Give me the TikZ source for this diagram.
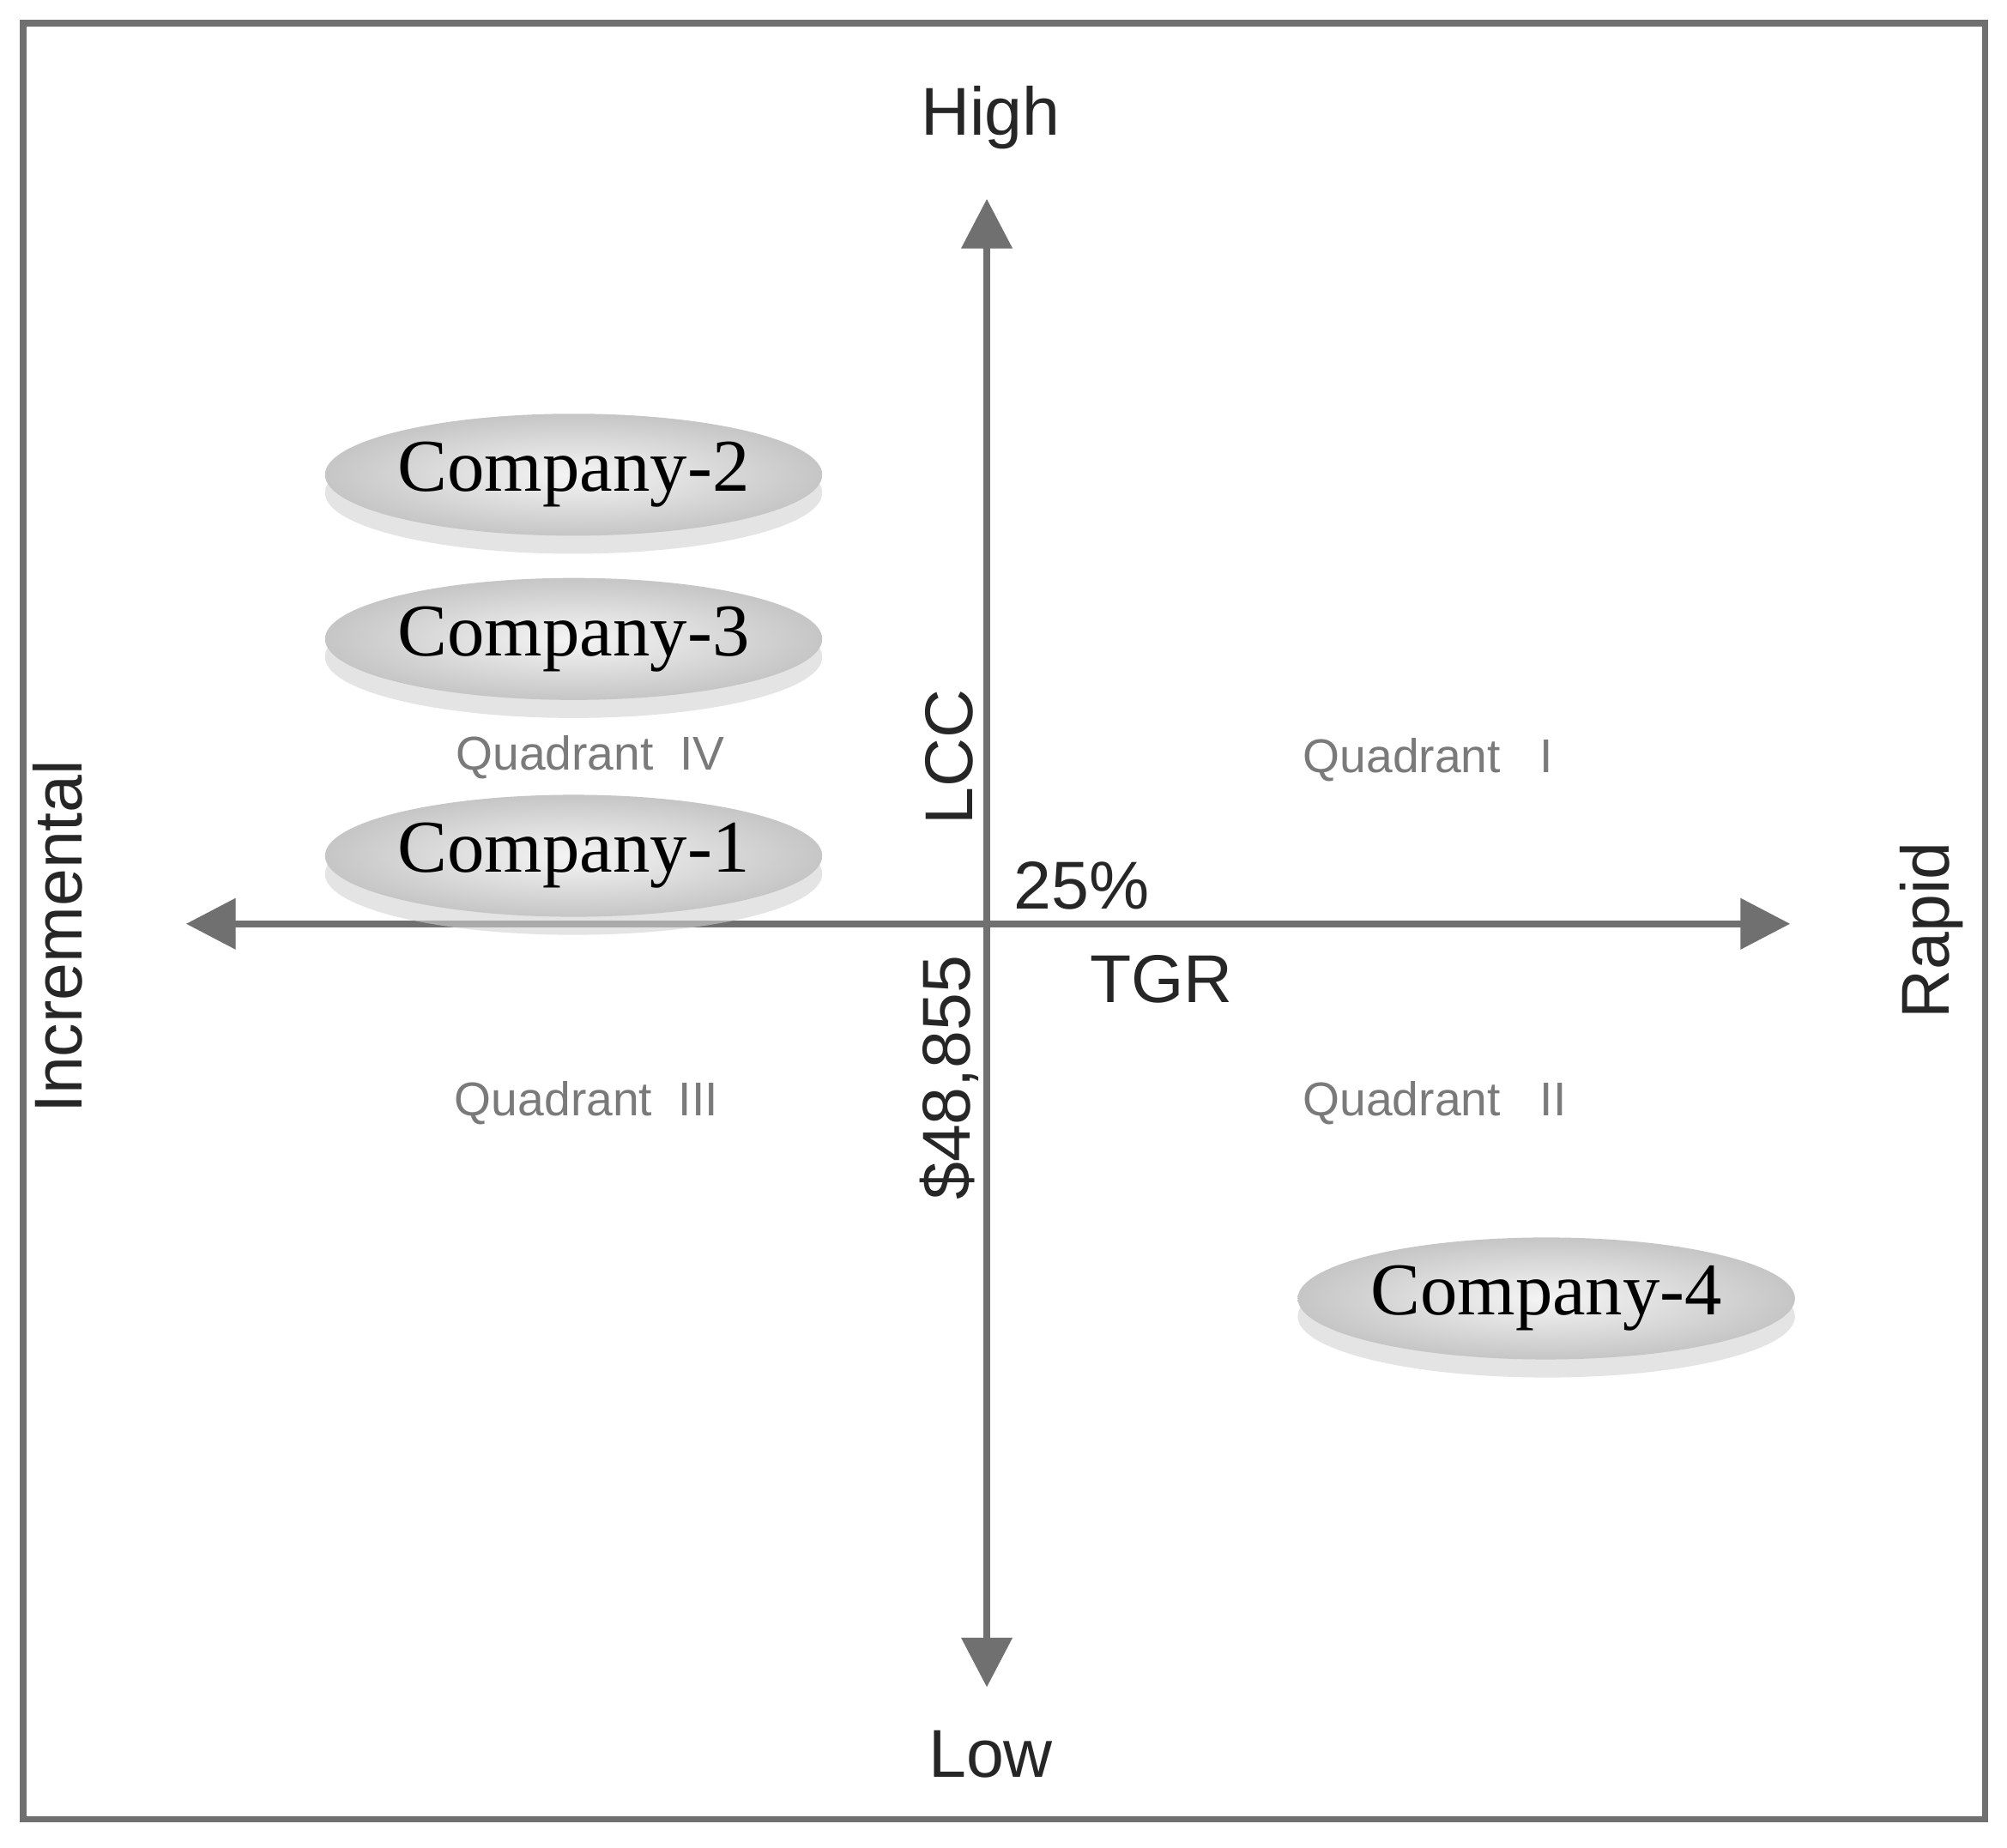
\documentclass[tikz,border=0pt]{standalone}
\usepackage{fontspec}
\setmainfont{Liberation Sans}
\newfontfamily\serifco{Liberation Serif}
\usetikzlibrary{arrows.meta,shadows,shapes.geometric}
\definecolor{axisgray}{HTML}{707070}
\definecolor{qgray}{HTML}{7A7A7A}
\begin{document}
\begin{tikzpicture}[x=0.01cm,y=-0.01cm,
  axis/.style={draw=axisgray,line width=1.6pt,-{Triangle[length=11pt,width=11pt]}},
  lab/.style={font=\fontsize{15}{17}\selectfont,text=black!85},
  quad/.style={font=\fontsize{10.5}{12}\selectfont,text=qgray},
  comp/.style={ellipse,minimum width=3.3cm,minimum height=0.95cm,inner sep=0pt,
    shade,inner color=gray!8,outer color=gray!45,
    drop shadow={shadow xshift=0pt,shadow yshift=-4pt,fill=gray!35,opacity=0.6},
    font=\serifco\fontsize{16.5}{18}\selectfont}]
\useasboundingbox (0,0) rectangle (1564,1440);
\fill[white] (0,0) rectangle (1564,1440);
\draw[axisgray,line width=1.4pt] (18,18) rectangle (1547,1418);
\coordinate (o) at (769,720);
\coordinate (top) at (769,155);
\coordinate (bot) at (769,1315);
\coordinate (lft) at (145,720);
\coordinate (rgt) at (1395,720);
\draw[axis] (o) -- (top);
\draw[axis] (o) -- (bot);
\draw[axis] (o) -- (lft);
\draw[axis] (o) -- (rgt);
\node[lab] (high) at (772,92) {High};
\node[lab] (low) at (772,1367) {Low};
\node[lab,rotate=90] (inc) at (45,730) {Incremental};
\node[lab,rotate=90] (rap) at (1505,725) {Rapid};
\node[lab,rotate=90] (lcc) at (740,590) {LCC};
\node[lab] (pct) at (843,690) {25\%};
\node[lab] (tgr) at (905,763) {TGR};
\node[lab,rotate=90] (val) at (740,840) {\$48,855};
\node[quad] (q4) at (460,590) {Quadrant\ \ IV};
\node[quad] (q1) at (1113,592) {Quadrant\ \ \ I};
\node[quad] (q3) at (457,860) {Quadrant\ \ III};
\node[quad] (q2) at (1118,860) {Quadrant\ \ \ II};
\node[comp] (c2) at (447,370) {Company-2};
\node[comp] (c3) at (447,498) {Company-3};
\node[comp] (c1) at (447,667) {Company-1};
\node[comp] (c4) at (1205,1012) {Company-4};
\end{tikzpicture}
\end{document}
